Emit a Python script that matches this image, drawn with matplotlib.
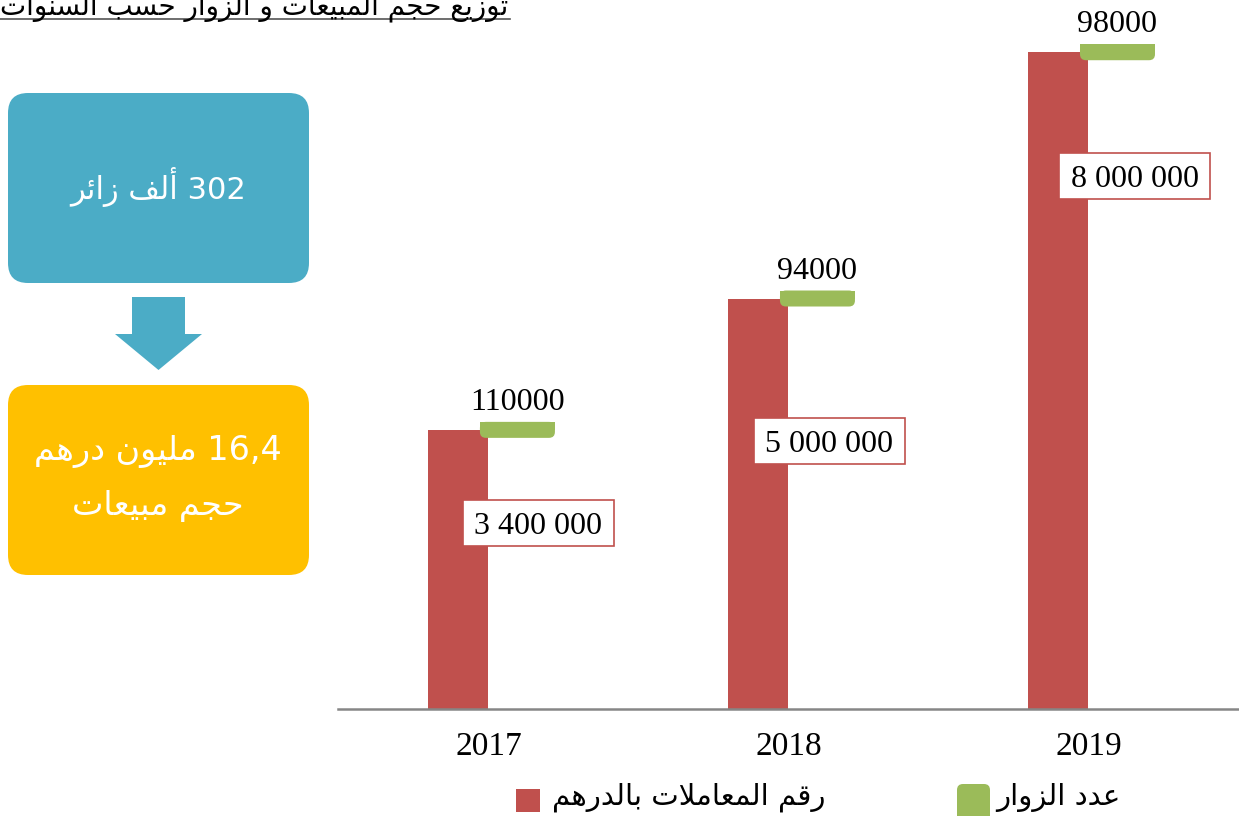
import matplotlib
matplotlib.use("Agg")
import matplotlib.pyplot as plt
from matplotlib.patches import FancyBboxPatch, Rectangle, Polygon
from matplotlib.lines import Line2D

# Données
years = ["2017", "2018", "2019"]
sales = [3400000, 5000000, 8000000]          # رقم المعاملات بالدرهم
visitors = [110000, 94000, 98000]            # عدد الزوار
sales_labels = ["3 400 000", "5 000 000", "8 000 000"]
visitor_labels = ["110000", "94000", "98000"]

title = "توزيع حجم المبيعات و الزوار حسب السنوات"
box_top_text = "302 ألف زائر"
box_bottom_text = ["16,4 مليون درهم", "حجم مبيعات"]
legend_sales = "رقم المعاملات بالدرهم"
legend_visitors = "عدد الزوار"

RED = "#C0504D"
GREEN = "#9BBB59"
BLUE = "#4BACC6"
YELLOW = "#FFC000"

# Mise en forme de l'arabe (formes contextuelles + ordre visuel)
AR_FORMS = {
    'ا': (0xFE8D, 0xFE8E), 'أ': (0xFE83, 0xFE84), 'إ': (0xFE87, 0xFE88),
    'آ': (0xFE81, 0xFE82), 'ة': (0xFE93, 0xFE94),
    'د': (0xFEA9, 0xFEAA), 'ذ': (0xFEAB, 0xFEAC), 'ر': (0xFEAD, 0xFEAE),
    'ز': (0xFEAF, 0xFEB0), 'و': (0xFEED, 0xFEEE), 'ى': (0xFEEF, 0xFEF0),
    'ب': (0xFE8F, 0xFE90, 0xFE91, 0xFE92), 'ت': (0xFE95, 0xFE96, 0xFE97, 0xFE98),
    'ث': (0xFE99, 0xFE9A, 0xFE9B, 0xFE9C), 'ج': (0xFE9D, 0xFE9E, 0xFE9F, 0xFEA0),
    'ح': (0xFEA1, 0xFEA2, 0xFEA3, 0xFEA4), 'خ': (0xFEA5, 0xFEA6, 0xFEA7, 0xFEA8),
    'س': (0xFEB1, 0xFEB2, 0xFEB3, 0xFEB4), 'ش': (0xFEB5, 0xFEB6, 0xFEB7, 0xFEB8),
    'ع': (0xFEC9, 0xFECA, 0xFECB, 0xFECC), 'غ': (0xFECD, 0xFECE, 0xFECF, 0xFED0),
    'ف': (0xFED1, 0xFED2, 0xFED3, 0xFED4), 'ق': (0xFED5, 0xFED6, 0xFED7, 0xFED8),
    'ك': (0xFED9, 0xFEDA, 0xFEDB, 0xFEDC), 'ل': (0xFEDD, 0xFEDE, 0xFEDF, 0xFEE0),
    'م': (0xFEE1, 0xFEE2, 0xFEE3, 0xFEE4), 'ن': (0xFEE5, 0xFEE6, 0xFEE7, 0xFEE8),
    'ه': (0xFEE9, 0xFEEA, 0xFEEB, 0xFEEC), 'ي': (0xFEF1, 0xFEF2, 0xFEF3, 0xFEF4),
    'ئ': (0xFE89, 0xFE8A, 0xFE8B, 0xFE8C),
}
LAM_ALEF = {'ا': (0xFEFB, 0xFEFC), 'أ': (0xFEF7, 0xFEF8)}


def shape(word):
    out = []
    i = 0
    prev_joins = False
    while i < len(word):
        c = word[i]
        forms = AR_FORMS.get(c)
        if forms is None:
            out.append(c)
            prev_joins = False
            i += 1
            continue
        if c == 'ل' and i + 1 < len(word) and word[i + 1] in LAM_ALEF:
            lig = LAM_ALEF[word[i + 1]]
            out.append(chr(lig[1] if prev_joins else lig[0]))
            prev_joins = False
            i += 2
            continue
        nxt = word[i + 1] if i + 1 < len(word) else None
        joins_next = len(forms) == 4 and nxt in AR_FORMS
        if prev_joins and joins_next:
            g = forms[3]
        elif prev_joins:
            g = forms[1]
        elif joins_next:
            g = forms[2]
        else:
            g = forms[0]
        out.append(chr(g))
        prev_joins = len(forms) == 4
        i += 1
    return ''.join(out)


def ar(text):
    words = text.split(' ')
    vis = [shape(w)[::-1] if any(ch in AR_FORMS for ch in w) else w for w in words]
    return ' '.join(reversed(vis))


AR_FONT = "DejaVu Sans"
NUM_FONT = "Liberation Serif"

W, H = 1239, 816
fig = plt.figure(figsize=(W / 100, H / 100), dpi=100)

# Graphique principal
ax = fig.add_axes([338 / W, 1 - 709 / H, 1 - 338 / W, 709 / H])
ymax = 8.636e6
ax.set_ylim(0, ymax)
ax.set_xlim(-0.503, 2.5)
px_y = ymax / 709.0          # unités y par pixel
px_x = 1 / 300.0             # unités x par pixel

x = list(range(len(years)))
ax.bar([i - 0.203 for i in x], sales, width=0.2, align='edge', color=RED, zorder=2)

# Marqueurs des visiteurs au sommet des barres
g_w = 75 * px_x
g_h = 16 * px_y
for i, s in enumerate(sales):
    x0 = i - 0.03
    y0 = s - 8 * px_y
    ax.add_patch(FancyBboxPatch((x0, y0), g_w, g_h,
                                boxstyle="round,pad=0,rounding_size=%f" % (6 * px_x),
                                mutation_aspect=px_y / px_x,
                                fc=GREEN, ec="none", zorder=3))
    ax.add_patch(Rectangle((x0, y0 + g_h / 2), g_w, g_h / 2, fc=GREEN, ec="none", zorder=3))
    ax.text(x0 + g_w / 2, y0 + g_h + 5 * px_y, visitor_labels[i], ha='center', va='bottom',
            fontsize=23, family=NUM_FONT, color="black", zorder=4)

# Étiquettes des montants dans un cadre blanc
lbl_dx = [0.165, 0.135, 0.152]
lbl_y = [2.27e6, 3.27e6, 6.49e6]
bw, bh = 151 * px_x, 46 * px_y
for i, lab in enumerate(sales_labels):
    cx, cy = i + lbl_dx[i], lbl_y[i]
    ax.add_patch(Rectangle((cx - bw / 2, cy - bh / 2), bw, bh, fc="white", ec=RED,
                           lw=1.2, zorder=5))
    ax.text(cx, cy, lab, ha='center', va='center_baseline', fontsize=23,
            family=NUM_FONT, zorder=6)

ax.set_xticks(x)
ax.set_xticklabels(years, fontsize=24, family=NUM_FONT)
ax.tick_params(axis='x', length=0, pad=16)
ax.set_yticks([])
for side in ["top", "left", "right"]:
    ax.spines[side].set_visible(False)
ax.spines["bottom"].set_color("#868686")
ax.spines["bottom"].set_linewidth(1.8)
ax.patch.set_alpha(0)

# Titre souligné
fig.text(508 / W, 1 - 14 / H, ar(title), ha='right', va='baseline', fontsize=20,
         family=AR_FONT, color="black")
fig.add_artist(Line2D([0, 510 / W], [1 - 19 / H, 1 - 19 / H], color="#555555", lw=1.2))

# Encadrés de gauche
def fig_box(x0, y0, x1, y1, color):
    fig.add_artist(FancyBboxPatch((x0 / W, 1 - y1 / H), (x1 - x0) / W, (y1 - y0) / H,
                                  boxstyle="round,pad=0,rounding_size=%f" % (20 / W),
                                  mutation_aspect=W / H,
                                  transform=fig.transFigure, fc=color, ec="none"))

fig_box(8, 93, 309, 283, BLUE)
fig_box(8, 385, 309, 575, YELLOW)
arrow = [(132, 297), (185, 297), (185, 334), (202, 334), (158.5, 370), (115, 334), (132, 334)]
fig.add_artist(Polygon([(px / W, 1 - py / H) for px, py in arrow], closed=True,
                       transform=fig.transFigure, fc=BLUE, ec="none"))

fig.text(158 / W, 1 - 187 / H, ar(box_top_text), ha='center', va='center',
         fontsize=22, family=AR_FONT, color="white")
fig.text(158 / W, 1 - 452 / H, ar(box_bottom_text[0]), ha='center', va='center',
         fontsize=24, family=AR_FONT, color="white")
fig.text(158 / W, 1 - 506 / H, ar(box_bottom_text[1]), ha='center', va='center',
         fontsize=24, family=AR_FONT, color="white")

# Légende
fig.add_artist(Rectangle((516 / W, 1 - 812 / H), 24 / W, 23 / H,
                         transform=fig.transFigure, fc=RED, ec="none"))
fig.text(552 / W, 1 - 797 / H, ar(legend_sales), ha='left', va='center',
         fontsize=21, family=AR_FONT, color="black")
fig.add_artist(FancyBboxPatch((957 / W, 1 - 822 / H), 33 / W, 38 / H,
                              boxstyle="round,pad=0,rounding_size=%f" % (6 / W),
                              mutation_aspect=W / H,
                              transform=fig.transFigure, fc=GREEN, ec="none"))
fig.text(996 / W, 1 - 797 / H, ar(legend_visitors), ha='left', va='center',
         fontsize=21, family=AR_FONT, color="black")

fig.savefig("out.png", dpi=100)
